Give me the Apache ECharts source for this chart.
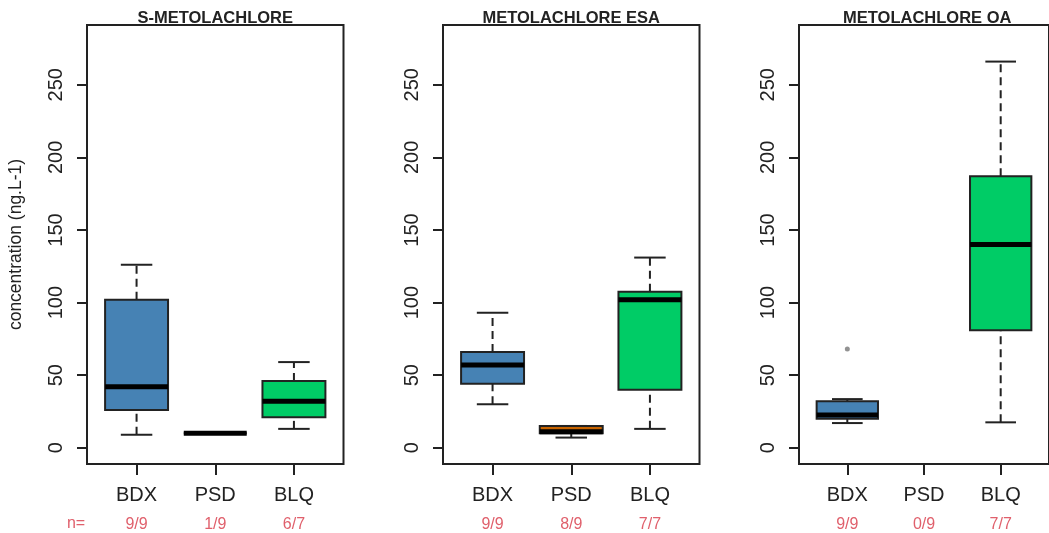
<!DOCTYPE html>
<html><head><meta charset="utf-8">
<script src="https://cdn.jsdelivr.net/npm/echarts@6/dist/echarts.min.js"></script>
<style>html,body{margin:0;padding:0;background:#fff}#c{width:1049px;height:533px}</style>
</head><body><div id="c"></div>
<script>
// ---- data ----
const panelTitles = ['S-METOLACHLORE', 'METOLACHLORE ESA', 'METOLACHLORE OA'];
const groups = ['BDX', 'PSD', 'BLQ'];
const groupColors = ['#4682B4', '#C86400', '#00CC66'];
// each group: [lower whisker, Q1, median, Q3, upper whisker]; null = nothing quantified
const sMetolachlore = [[9, 26, 42, 102, 126], [10, 10, 10, 10, 10], [13, 21, 32, 46, 59]];
const metolachloreEsa = [[30, 44, 57, 66, 93], [7, 10, 11, 15, 15], [13, 40, 102, 107.5, 131]];
const metolachloreOa = [[17, 20, 22.5, 32, 33.5], null, [17.5, 81, 140, 187, 266]];
const sMetolachloreOutliers = [];
const metolachloreEsaOutliers = [];
const metolachloreOaOutliers = [[1, 68]];
const nSMetolachlore = ['9/9', '1/9', '6/7'];
const nMetolachloreEsa = ['9/9', '8/9', '7/7'];
const nMetolachloreOa = ['9/9', '0/9', '7/7'];
const yTicks = [0, 50, 100, 150, 200, 250];
const xTicks = [1, 2, 3];
const yLabel = 'concentration (ng.L-1)';

const panelStats = [sMetolachlore, metolachloreEsa, metolachloreOa];
const panelOutliers = [sMetolachloreOutliers, metolachloreEsaOutliers, metolachloreOaOutliers];
const panelN = [nSMetolachlore, nMetolachloreEsa, nMetolachloreOa];

// ---- layout ----
const FONT = 'Liberation Sans, Arial, sans-serif';
const INK = '#222';
const RED = '#E0606C';
const gridLefts = [87, 443, 799];
const gridTop = 25, gridH = 439, gridW = 256.5;
const yMin = -11.2, yMax = 291.2;
const xMin = 0.37, xMax = 3.63;

const grids = [], xAxes = [], yAxes = [], series = [];
gridLefts.forEach((l, i) => {
  grids.push({left: l, top: gridTop, width: gridW, height: gridH, show: true,
    borderColor: INK, borderWidth: 2, backgroundColor: 'transparent'});
  xAxes.push({type: 'value', gridIndex: i, min: xMin, max: xMax, position: 'bottom',
    axisLine: {show: false, onZero: false}, splitLine: {show: false},
    axisTick: {show: true, customValues: xTicks, length: 11, lineStyle: {color: INK, width: 2}},
    axisLabel: {customValues: xTicks, formatter: v => groups[Math.round(v) - 1],
      fontFamily: FONT, fontSize: 20, color: INK, margin: 21}});
  const nArr = panelN[i];
  xAxes.push({type: 'value', gridIndex: i, min: xMin, max: xMax, position: 'bottom', offset: 48,
    axisLine: {show: false, onZero: false}, splitLine: {show: false}, axisTick: {show: false},
    axisLabel: {customValues: xTicks, formatter: v => nArr[Math.round(v) - 1],
      fontFamily: FONT, fontSize: 16, color: RED, margin: 5}});
  yAxes.push({type: 'value', gridIndex: i, min: yMin, max: yMax,
    axisLine: {show: false, onZero: false}, splitLine: {show: false},
    axisTick: {show: true, customValues: yTicks, length: 10, lineStyle: {color: INK, width: 2}},
    axisLabel: {customValues: yTicks, rotate: 90, fontFamily: FONT, fontSize: 20, color: INK, margin: 21},
    name: i === 0 ? yLabel : '', nameLocation: 'middle', nameRotate: 90, nameGap: 62,
    nameTextStyle: {fontFamily: FONT, fontSize: 17.5, color: INK}});

  const data = [];
  panelStats[i].forEach((s, g) => { if (s) data.push([g + 1, ...s, g]); });
  series.push({
    type: 'custom', xAxisIndex: 2 * i, yAxisIndex: i, clip: false,
    encode: {x: 0, y: [1, 2, 3, 4, 5]},
    data: data,
    renderItem: function (params, api) {
      const x = api.value(0);
      const lo = api.value(1), q1 = api.value(2), med = api.value(3), q3 = api.value(4), hi = api.value(5);
      const col = groupColors[api.value(6)];
      const hw = 0.4, cw = 0.2;
      const P = (a, b) => api.coord([a, b]);
      const line = (p1, p2, w, dash, c) => ({type: 'line',
        shape: {x1: p1[0], y1: p1[1], x2: p2[0], y2: p2[1]},
        style: {stroke: c || INK, lineWidth: w, lineDash: dash || null}});
      const tl = P(x - hw, q3), br = P(x + hw, q1);
      const children = [
        line(P(x, q3), P(x, hi), 2, [8, 5]),
        line(P(x, lo), P(x, q1), 2, [8, 5]),
        line(P(x - cw, hi), P(x + cw, hi), 2),
        line(P(x - cw, lo), P(x + cw, lo), 2),
        {type: 'rect', shape: {x: tl[0], y: tl[1], width: br[0] - tl[0], height: br[1] - tl[1]},
          style: {fill: col, stroke: INK, lineWidth: 2}},
        line(P(x - hw, med), P(x + hw, med), 5, null, '#000')
      ];
      return {type: 'group', children: children};
    }
  });
  if (panelOutliers[i].length) {
    series.push({type: 'scatter', xAxisIndex: 2 * i, yAxisIndex: i, data: panelOutliers[i],
      symbol: 'circle', symbolSize: 5, itemStyle: {color: '#777'}, silent: true});
  }
});

const graphics = panelTitles.map((t, i) => ({
  type: 'text', x: gridLefts[i] + gridW / 2, y: 18,
  style: {text: t, fill: INK, font: 'bold 16.5px ' + FONT, textAlign: 'center', textVerticalAlign: 'middle'}
}));
graphics.push({type: 'text', x: 76, y: 524,
  style: {text: 'n=', fill: RED, font: '16px ' + FONT, textAlign: 'center', textVerticalAlign: 'middle'}});

const chart = echarts.init(document.getElementById('c'), null, {renderer: 'canvas'});
chart.setOption({
  animation: false,
  backgroundColor: '#fff',
  grid: grids, xAxis: xAxes, yAxis: yAxes, series: series, graphic: graphics
});
</script></body></html>
